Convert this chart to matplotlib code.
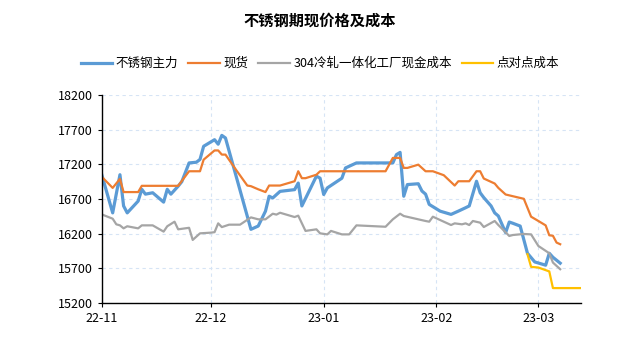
import pandas as pd
import matplotlib
matplotlib.use("Agg")
from matplotlib import pyplot as plt
import matplotlib.dates as mdates

plt.rcParams['font.family'] = ['Noto Sans CJK SC', 'DejaVu Sans']

# 不锈钢主力
main_dates = ["2022-11-01", "2022-11-04", "2022-11-06", "2022-11-07", "2022-11-08", "2022-11-11",
              "2022-11-12", "2022-11-13", "2022-11-15", "2022-11-18", "2022-11-19", "2022-11-20",
              "2022-11-22", "2022-11-23", "2022-11-25", "2022-11-27", "2022-11-28", "2022-11-29",
              "2022-12-02", "2022-12-03", "2022-12-04", "2022-12-05", "2022-12-12", "2022-12-14",
              "2022-12-16", "2022-12-17", "2022-12-18", "2022-12-20", "2022-12-24", "2022-12-25",
              "2022-12-26", "2022-12-30", "2022-12-31", "2023-01-01", "2023-01-02", "2023-01-06",
              "2023-01-07", "2023-01-10", "2023-01-20", "2023-01-21", "2023-01-22", "2023-01-23",
              "2023-01-24", "2023-01-27", "2023-01-28", "2023-01-29", "2023-01-30", "2023-02-02",
              "2023-02-05", "2023-02-07", "2023-02-09", "2023-02-10", "2023-02-12", "2023-02-13",
              "2023-02-14", "2023-02-16", "2023-02-17", "2023-02-18", "2023-02-20", "2023-02-21",
              "2023-02-22", "2023-02-24", "2023-02-26", "2023-02-28", "2023-03-03", "2023-03-04",
              "2023-03-05", "2023-03-07"]
main_vals = [17050, 16500, 17050, 16600, 16500, 16670,
             16840, 16770, 16790, 16655, 16840, 16770,
             16885, 16950, 17220, 17230, 17270, 17460,
             17555, 17490, 17617, 17580, 16263, 16310,
             16525, 16740, 16715, 16810, 16835, 16930,
             16600, 17030, 17000, 16765, 16860, 17000,
             17148, 17220, 17220, 17340, 17372, 16740,
             16908, 16920, 16815, 16770, 16622, 16525,
             16478, 16525, 16574, 16600, 16956, 16790,
             16720, 16600, 16500, 16455, 16215, 16368,
             16350, 16310, 15918, 15793, 15746, 15918,
             15860, 15775]

# 现货
spot_dates = ["2022-11-01", "2022-11-04", "2022-11-06", "2022-11-07", "2022-11-11", "2022-11-12",
              "2022-11-22", "2022-11-25", "2022-11-28", "2022-11-29", "2022-12-02", "2022-12-03",
              "2022-12-04", "2022-12-05", "2022-12-08", "2022-12-11", "2022-12-12", "2022-12-14",
              "2022-12-16", "2022-12-17", "2022-12-20", "2022-12-24", "2022-12-25", "2022-12-26",
              "2022-12-27", "2022-12-30", "2022-12-31", "2023-01-18", "2023-01-20", "2023-01-22",
              "2023-01-23", "2023-01-24", "2023-01-27", "2023-01-29", "2023-01-31", "2023-02-03",
              "2023-02-06", "2023-02-07", "2023-02-10", "2023-02-12", "2023-02-13", "2023-02-14",
              "2023-02-17", "2023-02-18", "2023-02-20", "2023-02-22", "2023-02-25", "2023-02-27",
              "2023-03-01", "2023-03-03", "2023-03-04", "2023-03-05", "2023-03-06", "2023-03-07"]
spot_vals = [17020, 16860, 16990, 16800, 16800, 16890,
             16890, 17100, 17100, 17267, 17400, 17400,
             17340, 17340, 17114, 16894, 16885, 16840,
             16800, 16894, 16894, 16956, 17100, 17000,
             17000, 17050, 17100, 17100, 17292, 17292,
             17148, 17148, 17195, 17100, 17100, 17043,
             16894, 16956, 16956, 17100, 17100, 16995,
             16923, 16860, 16765, 16740, 16703, 16445,
             16383, 16320, 16177, 16170, 16072, 16048]

# 304冷轧一体化工厂现金成本
cost_dates = ["2022-11-01", "2022-11-04", "2022-11-05", "2022-11-06", "2022-11-07", "2022-11-08",
              "2022-11-11", "2022-11-12", "2022-11-15", "2022-11-18", "2022-11-19", "2022-11-21",
              "2022-11-22", "2022-11-25", "2022-11-26", "2022-11-28", "2022-12-01", "2022-12-02",
              "2022-12-03", "2022-12-04", "2022-12-06", "2022-12-09", "2022-12-12", "2022-12-14",
              "2022-12-16", "2022-12-18", "2022-12-19", "2022-12-20", "2022-12-24", "2022-12-25",
              "2022-12-27", "2022-12-30", "2022-12-31", "2023-01-02", "2023-01-03", "2023-01-06",
              "2023-01-08", "2023-01-10", "2023-01-18", "2023-01-20", "2023-01-22", "2023-01-23",
              "2023-01-29", "2023-01-30", "2023-01-31", "2023-02-02", "2023-02-05", "2023-02-06",
              "2023-02-08", "2023-02-09", "2023-02-10", "2023-02-11", "2023-02-13", "2023-02-14",
              "2023-02-17", "2023-02-18", "2023-02-21", "2023-02-22", "2023-02-25", "2023-02-27",
              "2023-03-01", "2023-03-04", "2023-03-05", "2023-03-07"]
cost_vals = [16478, 16416, 16335, 16320, 16277, 16307,
             16277, 16320, 16320, 16230, 16307, 16373,
             16263, 16285, 16110, 16205, 16215, 16222,
             16349, 16295, 16330, 16330, 16435, 16407,
             16407, 16488, 16475, 16502, 16440, 16460,
             16240, 16263, 16205, 16190, 16240, 16190,
             16190, 16320, 16300, 16407, 16488, 16455,
             16383, 16373, 16445, 16397, 16325, 16349,
             16335, 16349, 16325, 16383, 16359, 16296,
             16383, 16325, 16167, 16181, 16196, 16190,
             16023, 15918, 15784, 15688]

# 点对点成本
p2p_dates = ["2023-02-26", "2023-02-27", "2023-03-01", "2023-03-04", "2023-03-05", "2023-03-13"]
p2p_vals = [15904, 15722, 15712, 15656, 15416, 15416]

fig = plt.figure(figsize=(6.4, 3.44), dpi=100)
ax = fig.add_axes([0.159, 0.119, 0.749, 0.605])

ax.plot(pd.to_datetime(main_dates), main_vals, color="#5B9BD5", lw=2.3, label="不锈钢主力")
ax.plot(pd.to_datetime(spot_dates), spot_vals, color="#ED7D31", lw=1.6, label="现货")
ax.plot(pd.to_datetime(cost_dates), cost_vals, color="#A5A5A5", lw=1.6, label="304冷轧一体化工厂现金成本")
ax.plot(pd.to_datetime(p2p_dates), p2p_vals, color="#FFC000", lw=1.6, label="点对点成本")

ax.set_xlim(pd.Timestamp("2022-11-01"), pd.Timestamp("2023-03-12 18:00"))
ax.set_ylim(15200, 18200)
ax.set_yticks(range(15200, 18201, 500))
ax.xaxis.set_major_locator(mdates.MonthLocator())
ax.xaxis.set_major_formatter(mdates.DateFormatter("%y-%m"))

# 网格和坐标轴
ax.grid(True, color="#D6E4F5", linestyle=(0, (3, 3)), lw=0.8)
ax.set_axisbelow(True)
for s in ["top", "right"]:
    ax.spines[s].set_visible(False)
ax.spines["left"].set_linewidth(1.0)
ax.spines["bottom"].set_linewidth(1.0)
ax.tick_params(labelsize=9, length=3, width=0.8)

# 标题和图例
fig.text(0.5, 0.94, "不锈钢期现价格及成本", ha="center", va="center", fontsize=11, fontweight="bold")
fig.legend(loc="center", bbox_to_anchor=(0.5, 0.815), ncol=4, frameon=False, fontsize=9,
           handlelength=2.5, handletextpad=0.3, columnspacing=0.8)

plt.savefig("out.png", dpi=100)
